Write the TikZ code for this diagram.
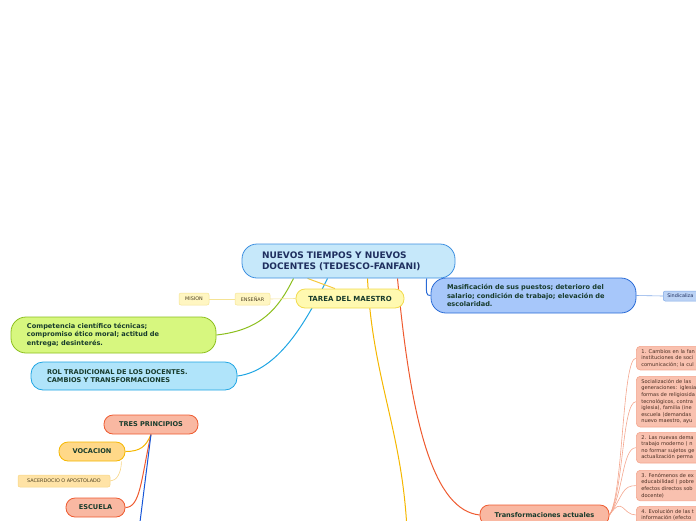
\documentclass[tikz,border=0pt]{standalone}
\usepackage{fontspec}
\setmainfont{DejaVu Sans}
\usetikzlibrary{backgrounds}
\begin{document}
\begin{tikzpicture}[x=1pt, y=-1pt,
    ideabox/.style={rectangle, rounded corners=9pt, line width=0.8pt, inner sep=0pt,
        align=left, text=textdark, font=\bfseries\fontsize{6.6}{8.7}\selectfont},
    notabox/.style={rectangle, rounded corners=2pt, line width=0.5pt, inner sep=0pt,
        text=notatext, font=\fontsize{4.9}{5.5}\selectfont},
    subbox/.style={rectangle, rounded corners=4pt, line width=0.6pt, anchor=north west,
        inner xsep=5pt, inner ysep=3pt, text width=110pt, align=left,
        fill=subbg, draw=subline, text=subtext, font=\fontsize{5.1}{6.6}\selectfont},
    rama/.style={line width=1pt},
    ramita/.style={line width=0.6pt}]
    % --- Colores ---
    \definecolor{textdark}{HTML}{173B2C}  \definecolor{navytext}{HTML}{1F2F5F}
    \definecolor{titlebg}{HTML}{C6E8FA}   \definecolor{titleline}{HTML}{3D8FE0}
    \definecolor{yellowbg}{HTML}{FFF9B0}  \definecolor{yellowline}{HTML}{F2DB4E}
    \definecolor{notabg}{HTML}{FFF6C2}    \definecolor{notaline}{HTML}{F5E394}
    \definecolor{notatext}{HTML}{4D4020}
    \definecolor{greenbg}{HTML}{D7F77F}   \definecolor{greenline}{HTML}{8CBF1E}
    \definecolor{cyanbg}{HTML}{B0E4FA}    \definecolor{cyanline}{HTML}{1FA5E3}
    \definecolor{bluebg}{HTML}{A7C7FA}    \definecolor{blueline}{HTML}{2A6BD6}
    \definecolor{sindbg}{HTML}{BCD3F5}    \definecolor{sindline}{HTML}{7FA8E6}
    \definecolor{salmonbg}{HTML}{F9B8A2}  \definecolor{redline}{HTML}{EE5A2F}
    \definecolor{ambbg}{HTML}{FFD888}     \definecolor{ambline}{HTML}{F5B700}
    \definecolor{sacbg}{HTML}{FFE3A6}     \definecolor{sacline}{HTML}{F7D585}
    \definecolor{subbg}{HTML}{F9C1AF}     \definecolor{subline}{HTML}{F4A68E}
    \definecolor{subtext}{HTML}{4A2E22}   \definecolor{tpblue}{HTML}{1656D8}

    \useasboundingbox (0,0) rectangle (696,520);
    \clip (0,0) rectangle (696,520);

    % --- Tema central ---
    \node[ideabox, rounded corners=15pt, fill=titlebg, draw=titleline, text=navytext,
        minimum width=213pt, minimum height=34pt, text width=173pt,
        font=\bfseries\fontsize{9}{11}\selectfont] (titulo) at (348.5,261)
        {NUEVOS TIEMPOS Y NUEVOS\\DOCENTES (TEDESCO-FANFANI)};

    % --- Tarea del maestro ---
    \node[ideabox, fill=yellowbg, draw=yellowline, minimum width=108pt, minimum height=19pt,
        font=\bfseries\fontsize{7}{8.7}\selectfont] (tarea) at (350,298.5) {TAREA DEL MAESTRO};
    \node[notabox, fill=notabg, draw=notaline, minimum width=35pt, minimum height=12pt]
        (ensenar) at (252.5,299) {ENSEÑAR};
    \node[notabox, fill=notabg, draw=notaline, minimum width=30pt, minimum height=12pt]
        (mision) at (194,299) {MISION};

    % --- Competencia / Rol / Masificación ---
    \node[ideabox, rounded corners=15pt, fill=greenbg, draw=greenline,
        minimum width=205pt, minimum height=36pt, text width=173pt] (compet) at (113.5,335)
        {Competencia científico técnicas;\\compromiso ético moral; actitud de\\entrega; desinterés.};
    \node[ideabox, rounded corners=12pt, fill=cyanbg, draw=cyanline,
        minimum width=206pt, minimum height=28pt, text width=174pt] (rol) at (134,376)
        {ROL TRADICIONAL DE LOS DOCENTES.\\CAMBIOS Y TRANSFORMACIONES};
    \node[ideabox, rounded corners=15pt, fill=bluebg, draw=blueline,
        minimum width=205pt, minimum height=35pt, text width=173pt] (masif) at (533.5,295.5)
        {Masificación de sus puestos; deterioro del\\salario; condición de trabajo; elevación de\\escolaridad.};
    \node[notabox, anchor=west, fill=sindbg, draw=sindline, text=navytext, minimum height=10pt,
        inner xsep=4pt, text width=60pt, align=left] (sindic) at (663,296) {Sindicaliza};

    % --- Tres principios ---
    \node[ideabox, fill=salmonbg, draw=redline, minimum width=94pt, minimum height=19pt]
        (tresprin) at (151,424.5) {TRES PRINCIPIOS};
    \node[ideabox, fill=ambbg, draw=ambline, minimum width=66pt, minimum height=19pt]
        (vocacion) at (92,451.5) {VOCACION};
    \node[notabox, fill=sacbg, draw=sacline, minimum width=92pt, minimum height=12pt]
        (sacerdocio) at (64,481) {SACERDOCIO O APOSTOLADO};
    \node[ideabox, fill=salmonbg, draw=redline, minimum width=59pt, minimum height=19pt]
        (escuela) at (95.5,507.5) {ESCUELA};

    % --- Transformaciones actuales ---
    \node[ideabox, fill=salmonbg, draw=redline, minimum width=129pt, minimum height=20pt]
        (transf) at (544.5,515) {Transformaciones actuales};
    \node[subbox] (camb1) at (636,346)
        {1. Cambios en la fan\\instituciones de soci\\comunicación; la cul};
    \node[subbox] (social) at (636,376)
        {Socialización de las\\generaciones: iglesia\\formas de religiosida\\tecnológicos, contra\\iglesia), familia (ine\\escuela (demandas\\nuevo maestro, ayu};
    \node[subbox] (camb2) at (636,432)
        {2. Las nuevas dema\\trabajo moderno ( n\\no formar sujetos ge\\actualización perma};
    \node[subbox] (camb3) at (636,470)
        {3. Fenómenos de ex\\educabilidad ( pobre\\efectos directos sob\\docente)};
    \node[subbox] (camb4) at (636,506)
        {4. Evolución de las t\\información (efecto};

    % --- Extremos libres (ramas que siguen abajo) ---
    \coordinate (ambend) at (407,530);
    \coordinate (tpend) at (139,530);

    \begin{pgfonlayer}{background}
    % --- Ramas del tema central ---
    \draw[rama, greenline] ([xshift=-55pt]titulo.south) .. controls +(-15,30) and +(45,-5) .. (compet.east);
    \draw[rama, cyanline] ([xshift=-21pt]titulo.south) .. controls +(-22,45) and +(40,-5) .. (rol.east);
    \draw[rama, yellowline!80!orange] ([xshift=-41pt]titulo.south) -- ([xshift=-15pt]tarea.north);
    \draw[rama, ambline] ([xshift=19pt]titulo.south) .. controls +(5,100) and +(-5,-100) .. (ambend);
    \draw[rama, redline] ([xshift=49pt]titulo.south) .. controls +(14,150) and +(-45,-5) .. (transf.west);
    \draw[rama, blueline] ([xshift=78pt]titulo.south) .. controls +(0,15) and +(-5,0) .. (masif.west);

    % --- Ramas menores ---
    \draw[ramita, sindline] (masif.east) -- (sindic.west);
    \draw[ramita, notaline] (tarea.west) -- (ensenar.east);
    \draw[ramita, notaline] (ensenar.west) -- (mision.east);

    \draw[rama, ambline] (tresprin.south) .. controls +(-5,12) and +(15,0) .. (vocacion.east);
    \draw[rama, redline] (tresprin.south) .. controls +(-10,45) and +(15,0) .. (escuela.east);
    \draw[rama, tpblue] (tresprin.south) -- (tpend);
    \draw[ramita, sacline] ([xshift=-4pt]vocacion.south east) .. controls +(0,12) and +(6,0) .. (sacerdocio.east);

    \foreach \hijo in {camb1,social,camb2,camb3,camb4} {
        \draw[ramita, subline] (transf.east) .. controls +(14,-20) and +(-14,0) .. (\hijo.west);
    }
    \end{pgfonlayer}
\end{tikzpicture}
\end{document}
